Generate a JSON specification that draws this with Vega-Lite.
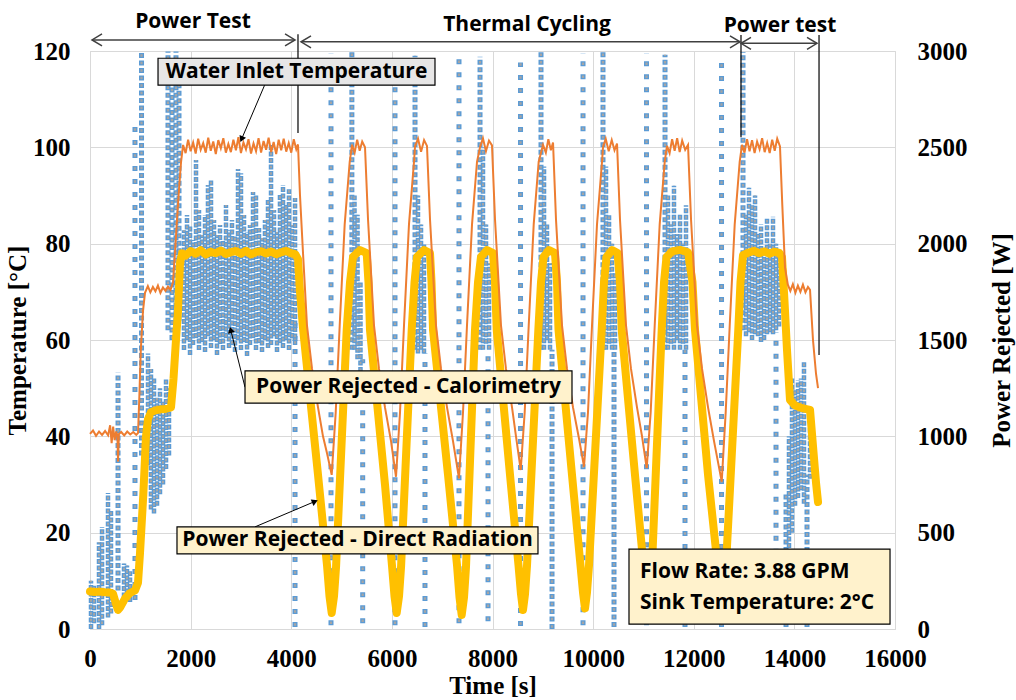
{
  "$schema": "https://vega.github.io/schema/vega-lite/v6.json",
  "width": 805,
  "height": 578,
  "autosize": {"type": "none"},
  "padding": {"left": 90, "top": 51, "right": 121, "bottom": 71},
  "background": "white",
  "config": {
    "view": {"stroke": "#d9d9d9"},
    "axis": {"labelFont": "Liberation Serif", "labelFontSize": 25, "labelFontWeight": "bold", "labelColor": "#000000", "titleFont": "Liberation Serif", "titleFontSize": 25, "titleFontWeight": "bold", "titleColor": "#000000", "ticks": false, "domain": false, "gridColor": "#d9d9d9", "gridWidth": 1}
  },
  "datasets": {
    "sparse": [
      {"t": 894, "lo": 150, "hi": 2620}, {"t": 4075, "lo": 10, "hi": 1600}, {"t": 4790, "lo": 20, "hi": 2990}, {"t": 5420, "lo": 30, "hi": 1400}, {"t": 6062, "lo": 20, "hi": 2970}, {"t": 6658, "lo": 10, "hi": 1430}, {"t": 7334, "lo": 30, "hi": 2960}, {"t": 7911, "lo": 40, "hi": 1450}, {"t": 8557, "lo": 15, "hi": 2940}, {"t": 9799, "lo": 20, "hi": 2990}, {"t": 11061, "lo": 20, "hi": 2990}, {"t": 11826, "lo": 10, "hi": 1450}, {"t": 12552, "lo": 10, "hi": 2960}, {"t": 13635, "lo": 390, "hi": 1540}
    ],
    "dense": [
      {"t": 557, "lo": 200, "hi": 1330}, {"t": 1024, "lo": 900, "hi": 2995}, {"t": 1550, "lo": 1550, "hi": 2998}, {"t": 1630, "lo": 1500, "hi": 2950}, {"t": 1709, "lo": 1550, "hi": 2998}, {"t": 1769, "lo": 1600, "hi": 2900}, {"t": 5205, "lo": 1450, "hi": 2995}, {"t": 6460, "lo": 1450, "hi": 2975}, {"t": 7752, "lo": 1450, "hi": 2970}, {"t": 8964, "lo": 1450, "hi": 2995}, {"t": 9183, "lo": 0, "hi": 1450}, {"t": 10196, "lo": 1450, "hi": 2995}, {"t": 10415, "lo": 10, "hi": 1450}, {"t": 11429, "lo": 1450, "hi": 2980}, {"t": 12979, "lo": 1550, "hi": 2995}, {"t": 13834, "lo": 10, "hi": 700}, {"t": 14251, "lo": 10, "hi": 800}
    ],
    "cluster": [
      {"t": 20, "lo": 0, "hi": 250}, {"t": 80, "lo": 30, "hi": 230}, {"t": 179, "lo": 0, "hi": 450}, {"t": 239, "lo": 20, "hi": 530}, {"t": 358, "lo": 60, "hi": 706}, {"t": 417, "lo": 80, "hi": 620}, {"t": 676, "lo": 130, "hi": 340}, {"t": 735, "lo": 150, "hi": 330}, {"t": 795, "lo": 140, "hi": 300},
      {"t": 1153, "lo": 850, "hi": 1430}, {"t": 1212, "lo": 620, "hi": 1350}, {"t": 1272, "lo": 600, "hi": 1300}, {"t": 1332, "lo": 640, "hi": 1200}, {"t": 1391, "lo": 700, "hi": 1250}, {"t": 1451, "lo": 750, "hi": 1180}, {"t": 1511, "lo": 830, "hi": 1300}, {"t": 1570, "lo": 900, "hi": 1250},
      {"t": 1868, "lo": 1448, "hi": 2070}, {"t": 1928, "lo": 1500, "hi": 2149}, {"t": 1988, "lo": 1422, "hi": 2097}, {"t": 2047, "lo": 1474, "hi": 2019}, {"t": 2107, "lo": 1510, "hi": 2434}, {"t": 2166, "lo": 1448, "hi": 2175}, {"t": 2226, "lo": 1490, "hi": 2045}, {"t": 2286, "lo": 1438, "hi": 2149}, {"t": 2345, "lo": 1520, "hi": 2304}, {"t": 2405, "lo": 1458, "hi": 2330}, {"t": 2465, "lo": 1500, "hi": 2123}, {"t": 2524, "lo": 1422, "hi": 2045}, {"t": 2584, "lo": 1479, "hi": 2097}, {"t": 2643, "lo": 1448, "hi": 2019}, {"t": 2703, "lo": 1510, "hi": 2201}, {"t": 2763, "lo": 1458, "hi": 2070}, {"t": 2822, "lo": 1474, "hi": 2123}, {"t": 2882, "lo": 1438, "hi": 2045}, {"t": 2942, "lo": 1500, "hi": 2387}, {"t": 3001, "lo": 1448, "hi": 2366}, {"t": 3061, "lo": 1490, "hi": 2149}, {"t": 3121, "lo": 1417, "hi": 2060}, {"t": 3180, "lo": 1474, "hi": 2097}, {"t": 3240, "lo": 1510, "hi": 2268}, {"t": 3299, "lo": 1448, "hi": 2252}, {"t": 3359, "lo": 1484, "hi": 2081}, {"t": 3419, "lo": 1438, "hi": 2029}, {"t": 3478, "lo": 1500, "hi": 2123}, {"t": 3538, "lo": 1458, "hi": 2227}, {"t": 3598, "lo": 1474, "hi": 2512}, {"t": 3657, "lo": 1520, "hi": 2175}, {"t": 3717, "lo": 1438, "hi": 2060}, {"t": 3776, "lo": 1484, "hi": 2252}, {"t": 3836, "lo": 1458, "hi": 2304}, {"t": 3896, "lo": 1500, "hi": 2201}, {"t": 3955, "lo": 1448, "hi": 2283}, {"t": 4015, "lo": 1510, "hi": 2097}, {"t": 4075, "lo": 1474, "hi": 2237},
      {"t": 5257, "lo": 1450, "hi": 2250}, {"t": 5317, "lo": 1400, "hi": 2150}, {"t": 5376, "lo": 1300, "hi": 1800},
      {"t": 6519, "lo": 1430, "hi": 2250}, {"t": 6579, "lo": 1450, "hi": 2100}, {"t": 6638, "lo": 1430, "hi": 2000},
      {"t": 7811, "lo": 1450, "hi": 2500}, {"t": 7871, "lo": 1480, "hi": 2100}, {"t": 7931, "lo": 1450, "hi": 1900},
      {"t": 9024, "lo": 1450, "hi": 2400}, {"t": 9083, "lo": 1500, "hi": 2100}, {"t": 9143, "lo": 1450, "hi": 1900},
      {"t": 10256, "lo": 1450, "hi": 2400}, {"t": 10316, "lo": 1480, "hi": 2150}, {"t": 10375, "lo": 1450, "hi": 2000}, {"t": 10435, "lo": 1450, "hi": 1850},
      {"t": 11488, "lo": 1450, "hi": 2250}, {"t": 11548, "lo": 1480, "hi": 2100}, {"t": 11607, "lo": 1450, "hi": 2300}, {"t": 11667, "lo": 1500, "hi": 2050}, {"t": 11727, "lo": 1450, "hi": 2150}, {"t": 11786, "lo": 1480, "hi": 2000}, {"t": 11846, "lo": 1450, "hi": 2200},
      {"t": 13039, "lo": 1520, "hi": 2150}, {"t": 13098, "lo": 1540, "hi": 2290}, {"t": 13158, "lo": 1500, "hi": 2200}, {"t": 13218, "lo": 1530, "hi": 2250}, {"t": 13277, "lo": 1520, "hi": 2050}, {"t": 13337, "lo": 1490, "hi": 2100}, {"t": 13397, "lo": 1500, "hi": 1950}, {"t": 13456, "lo": 1530, "hi": 2130}, {"t": 13516, "lo": 1540, "hi": 2000}, {"t": 13575, "lo": 1530, "hi": 2140}, {"t": 13635, "lo": 1550, "hi": 2000}, {"t": 13695, "lo": 1570, "hi": 1950},
      {"t": 13893, "lo": 150, "hi": 1000}, {"t": 13953, "lo": 500, "hi": 1300}, {"t": 14013, "lo": 640, "hi": 1240}, {"t": 14072, "lo": 680, "hi": 1290}, {"t": 14132, "lo": 720, "hi": 1300}, {"t": 14191, "lo": 650, "hi": 1385}, {"t": 14311, "lo": 780, "hi": 1050}
    ],
    "yellow": [
      {"t": 0, "p": 195}, {"t": 100, "p": 192}, {"t": 200, "p": 194}, {"t": 300, "p": 191}, {"t": 400, "p": 189}, {"t": 457, "p": 183}, {"t": 517, "p": 130}, {"t": 557, "p": 99}, {"t": 600, "p": 112}, {"t": 700, "p": 160}, {"t": 795, "p": 187}, {"t": 894, "p": 200}, {"t": 954, "p": 240}, {"t": 994, "p": 394}, {"t": 1060, "p": 700}, {"t": 1113, "p": 1000}, {"t": 1153, "p": 1090}, {"t": 1212, "p": 1125}, {"t": 1300, "p": 1135}, {"t": 1400, "p": 1140}, {"t": 1500, "p": 1142}, {"t": 1610, "p": 1150}, {"t": 1660, "p": 1300}, {"t": 1709, "p": 1500}, {"t": 1749, "p": 1650}, {"t": 1789, "p": 1900}, {"t": 1830, "p": 1950},
      {"t": 1900, "p": 1938}, {"t": 2000, "p": 1962}, {"t": 2100, "p": 1948}, {"t": 2200, "p": 1966}, {"t": 2300, "p": 1944}, {"t": 2400, "p": 1958}, {"t": 2500, "p": 1950}, {"t": 2600, "p": 1964}, {"t": 2700, "p": 1946}, {"t": 2800, "p": 1956}, {"t": 2900, "p": 1962}, {"t": 3000, "p": 1948}, {"t": 3100, "p": 1963}, {"t": 3200, "p": 1944}, {"t": 3300, "p": 1956}, {"t": 3400, "p": 1961}, {"t": 3500, "p": 1949}, {"t": 3600, "p": 1959}, {"t": 3700, "p": 1945}, {"t": 3800, "p": 1955}, {"t": 3900, "p": 1962}, {"t": 4000, "p": 1950}, {"t": 4080, "p": 1946}, {"t": 4134, "p": 1920}, {"t": 4174, "p": 1750}, {"t": 4234, "p": 1560}, {"t": 4532, "p": 800}, {"t": 4711, "p": 330}, {"t": 4760, "p": 170}, {"t": 4804, "p": 83}, {"t": 4850, "p": 170}, {"t": 4890, "p": 320}, {"t": 5102, "p": 1552}, {"t": 5168, "p": 1800}, {"t": 5228, "p": 1931}, {"t": 5367, "p": 1967}, {"t": 5499, "p": 1951}, {"t": 5535, "p": 1800}, {"t": 5565, "p": 1552},
      {"t": 5863, "p": 750}, {"t": 6002, "p": 330}, {"t": 6052, "p": 170}, {"t": 6096, "p": 83}, {"t": 6142, "p": 170}, {"t": 6182, "p": 320}, {"t": 6394, "p": 1552}, {"t": 6450, "p": 1800}, {"t": 6500, "p": 1931}, {"t": 6639, "p": 1967}, {"t": 6758, "p": 1951}, {"t": 6788, "p": 1800}, {"t": 6818, "p": 1552},
      {"t": 7116, "p": 800}, {"t": 7295, "p": 330}, {"t": 7344, "p": 165}, {"t": 7388, "p": 73}, {"t": 7434, "p": 165}, {"t": 7473, "p": 320}, {"t": 7652, "p": 1552}, {"t": 7712, "p": 1800}, {"t": 7771, "p": 1931}, {"t": 7891, "p": 1967}, {"t": 8010, "p": 1951}, {"t": 8050, "p": 1800}, {"t": 8084, "p": 1552},
      {"t": 8348, "p": 800}, {"t": 8517, "p": 330}, {"t": 8567, "p": 180}, {"t": 8606, "p": 99}, {"t": 8646, "p": 180}, {"t": 8686, "p": 330}, {"t": 8911, "p": 1552}, {"t": 8964, "p": 1800}, {"t": 9014, "p": 1931}, {"t": 9123, "p": 1967}, {"t": 9242, "p": 1951}, {"t": 9282, "p": 1800}, {"t": 9312, "p": 1552},
      {"t": 9580, "p": 800}, {"t": 9749, "p": 330}, {"t": 9799, "p": 190}, {"t": 9839, "p": 107}, {"t": 9878, "p": 190}, {"t": 9918, "p": 330}, {"t": 10170, "p": 1552}, {"t": 10216, "p": 1800}, {"t": 10266, "p": 1931}, {"t": 10375, "p": 1967}, {"t": 10485, "p": 1951}, {"t": 10534, "p": 1800}, {"t": 10568, "p": 1552},
      {"t": 10832, "p": 800}, {"t": 11001, "p": 330}, {"t": 11051, "p": 175}, {"t": 11091, "p": 90}, {"t": 11131, "p": 175}, {"t": 11170, "p": 330}, {"t": 11363, "p": 1552}, {"t": 11409, "p": 1800}, {"t": 11459, "p": 1931}, {"t": 11568, "p": 1960}, {"t": 11727, "p": 1968}, {"t": 11886, "p": 1955}, {"t": 11975, "p": 1800}, {"t": 12025, "p": 1552},
      {"t": 12284, "p": 800}, {"t": 12473, "p": 330}, {"t": 12522, "p": 170}, {"t": 12562, "p": 80}, {"t": 12602, "p": 170}, {"t": 12641, "p": 330}, {"t": 12885, "p": 1552}, {"t": 12929, "p": 1800}, {"t": 12979, "p": 1940}, {"t": 13100, "p": 1955}, {"t": 13200, "p": 1962}, {"t": 13300, "p": 1950}, {"t": 13400, "p": 1960}, {"t": 13500, "p": 1948}, {"t": 13600, "p": 1958}, {"t": 13700, "p": 1952}, {"t": 13754, "p": 1930}, {"t": 13804, "p": 1700}, {"t": 13853, "p": 1450}, {"t": 13913, "p": 1188}, {"t": 14013, "p": 1160}, {"t": 14172, "p": 1145}, {"t": 14311, "p": 1137}, {"t": 14370, "p": 950}, {"t": 14430, "p": 760}, {"t": 14470, "p": 659}
    ],
    "orange": [
      {"t": 0, "v": 40.5}, {"t": 60, "v": 41.2}, {"t": 120, "v": 40.1}, {"t": 180, "v": 41.0}, {"t": 240, "v": 40.3}, {"t": 300, "v": 41.1}, {"t": 360, "v": 40.2}, {"t": 400, "v": 42.3}, {"t": 430, "v": 38.6}, {"t": 460, "v": 42.0}, {"t": 490, "v": 39.2}, {"t": 520, "v": 41.0}, {"t": 545, "v": 40.2}, {"t": 557, "v": 34.8}, {"t": 575, "v": 40.5}, {"t": 620, "v": 40.9}, {"t": 680, "v": 40.2}, {"t": 740, "v": 41.0}, {"t": 800, "v": 40.4}, {"t": 860, "v": 40.9}, {"t": 920, "v": 40.3}, {"t": 955, "v": 40.7}, {"t": 980, "v": 48}, {"t": 1010, "v": 58}, {"t": 1053, "v": 66}, {"t": 1093, "v": 69.8}, {"t": 1150, "v": 71.2}, {"t": 1200, "v": 69.9}, {"t": 1250, "v": 71.0}, {"t": 1300, "v": 70.1}, {"t": 1350, "v": 71.3}, {"t": 1400, "v": 69.8}, {"t": 1450, "v": 70.9}, {"t": 1500, "v": 70.2}, {"t": 1550, "v": 71.1}, {"t": 1600, "v": 70.4}, {"t": 1650, "v": 72}, {"t": 1700, "v": 80}, {"t": 1760, "v": 90}, {"t": 1810, "v": 97},
      {"t": 1850, "v": 100.5}, {"t": 1900, "v": 98.8}, {"t": 1950, "v": 101.6}, {"t": 2000, "v": 99.2}, {"t": 2050, "v": 101.0}, {"t": 2100, "v": 98.7}, {"t": 2150, "v": 101.8}, {"t": 2200, "v": 99.5}, {"t": 2250, "v": 100.9}, {"t": 2300, "v": 98.9}, {"t": 2350, "v": 102.0}, {"t": 2400, "v": 99.3}, {"t": 2450, "v": 101.2}, {"t": 2500, "v": 98.6}, {"t": 2550, "v": 101.5}, {"t": 2600, "v": 99.8}, {"t": 2650, "v": 101.9}, {"t": 2700, "v": 98.9}, {"t": 2750, "v": 100.7}, {"t": 2800, "v": 99.0}, {"t": 2850, "v": 101.6}, {"t": 2900, "v": 99.4}, {"t": 2950, "v": 102.1}, {"t": 3000, "v": 98.8}, {"t": 3050, "v": 101.0}, {"t": 3100, "v": 99.6}, {"t": 3150, "v": 101.7}, {"t": 3200, "v": 98.7}, {"t": 3250, "v": 100.8}, {"t": 3300, "v": 99.2}, {"t": 3350, "v": 101.9}, {"t": 3400, "v": 98.9}, {"t": 3450, "v": 101.3}, {"t": 3500, "v": 99.5}, {"t": 3550, "v": 102.0}, {"t": 3600, "v": 99.0}, {"t": 3650, "v": 101.1}, {"t": 3700, "v": 98.6}, {"t": 3750, "v": 101.6}, {"t": 3800, "v": 99.4}, {"t": 3850, "v": 101.8}, {"t": 3900, "v": 99.1}, {"t": 3950, "v": 100.9}, {"t": 4000, "v": 98.9}, {"t": 4050, "v": 101.7}, {"t": 4100, "v": 99.6}, {"t": 4134, "v": 100.6},
      {"t": 4174, "v": 90}, {"t": 4234, "v": 78}, {"t": 4313, "v": 63}, {"t": 4413, "v": 54}, {"t": 4532, "v": 46}, {"t": 4631, "v": 40}, {"t": 4711, "v": 36.5}, {"t": 4804, "v": 32}, {"t": 4884, "v": 45}, {"t": 4963, "v": 63}, {"t": 5062, "v": 84}, {"t": 5162, "v": 97}, {"t": 5208, "v": 100.5}, {"t": 5260, "v": 98.9}, {"t": 5310, "v": 101.6}, {"t": 5360, "v": 99.3}, {"t": 5410, "v": 101.2}, {"t": 5466, "v": 100},
      {"t": 5526, "v": 85}, {"t": 5645, "v": 63}, {"t": 5744, "v": 54}, {"t": 5863, "v": 46}, {"t": 5983, "v": 39}, {"t": 6082, "v": 31.6}, {"t": 6162, "v": 45}, {"t": 6241, "v": 63}, {"t": 6340, "v": 84}, {"t": 6440, "v": 97}, {"t": 6460, "v": 100.2}, {"t": 6520, "v": 101.8}, {"t": 6580, "v": 99.1}, {"t": 6640, "v": 101.5}, {"t": 6698, "v": 100.3},
      {"t": 6758, "v": 85}, {"t": 6877, "v": 63}, {"t": 6977, "v": 54}, {"t": 7096, "v": 46}, {"t": 7215, "v": 39}, {"t": 7334, "v": 31.3}, {"t": 7414, "v": 45}, {"t": 7493, "v": 63}, {"t": 7593, "v": 84}, {"t": 7692, "v": 97}, {"t": 7752, "v": 100}, {"t": 7810, "v": 101.9}, {"t": 7870, "v": 99.2}, {"t": 7930, "v": 101.4}, {"t": 7990, "v": 100.4},
      {"t": 8050, "v": 85}, {"t": 8169, "v": 63}, {"t": 8268, "v": 54}, {"t": 8388, "v": 46}, {"t": 8467, "v": 40}, {"t": 8561, "v": 33}, {"t": 8640, "v": 45}, {"t": 8720, "v": 63}, {"t": 8819, "v": 84}, {"t": 8918, "v": 97}, {"t": 9004, "v": 100.5}, {"t": 9060, "v": 98.9}, {"t": 9110, "v": 101.7}, {"t": 9160, "v": 99.4}, {"t": 9203, "v": 101},
      {"t": 9262, "v": 85}, {"t": 9382, "v": 63}, {"t": 9481, "v": 54}, {"t": 9600, "v": 46}, {"t": 9720, "v": 39.5}, {"t": 9819, "v": 33.7}, {"t": 9898, "v": 45}, {"t": 9978, "v": 63}, {"t": 10077, "v": 84}, {"t": 10177, "v": 97}, {"t": 10196, "v": 100}, {"t": 10250, "v": 101.8}, {"t": 10310, "v": 99.2}, {"t": 10370, "v": 101.5}, {"t": 10425, "v": 99.4}, {"t": 10475, "v": 100.8},
      {"t": 10534, "v": 85}, {"t": 10654, "v": 63}, {"t": 10753, "v": 54}, {"t": 10872, "v": 46}, {"t": 10972, "v": 40}, {"t": 11065, "v": 33.4}, {"t": 11144, "v": 45}, {"t": 11224, "v": 63}, {"t": 11323, "v": 84}, {"t": 11423, "v": 97}, {"t": 11468, "v": 100.3}, {"t": 11520, "v": 98.8}, {"t": 11570, "v": 101.7}, {"t": 11620, "v": 99.3}, {"t": 11670, "v": 101.9}, {"t": 11720, "v": 99.0}, {"t": 11770, "v": 101.4}, {"t": 11830, "v": 99.5}, {"t": 11886, "v": 100.5},
      {"t": 11946, "v": 85}, {"t": 12065, "v": 63}, {"t": 12165, "v": 54}, {"t": 12284, "v": 46}, {"t": 12403, "v": 39}, {"t": 12556, "v": 30.6}, {"t": 12635, "v": 45}, {"t": 12715, "v": 63}, {"t": 12814, "v": 84}, {"t": 12913, "v": 97}, {"t": 12959, "v": 100.5},
      {"t": 13009, "v": 98.9}, {"t": 13059, "v": 101.7}, {"t": 13109, "v": 99.2}, {"t": 13159, "v": 101.5}, {"t": 13209, "v": 98.8}, {"t": 13259, "v": 101.2}, {"t": 13309, "v": 99.6}, {"t": 13359, "v": 101.9}, {"t": 13409, "v": 99.0}, {"t": 13459, "v": 100.9}, {"t": 13509, "v": 98.8}, {"t": 13559, "v": 101.6}, {"t": 13609, "v": 99.3}, {"t": 13659, "v": 101.8}, {"t": 13714, "v": 100.2},
      {"t": 13760, "v": 88}, {"t": 13814, "v": 75}, {"t": 13870, "v": 71.5}, {"t": 13920, "v": 70.2}, {"t": 13970, "v": 71.6}, {"t": 14020, "v": 69.8}, {"t": 14070, "v": 71.3}, {"t": 14120, "v": 70.0}, {"t": 14170, "v": 71.5}, {"t": 14220, "v": 69.9}, {"t": 14270, "v": 71.0}, {"t": 14311, "v": 70.4}, {"t": 14370, "v": 60}, {"t": 14430, "v": 53}, {"t": 14470, "v": 50}
    ],
    "spans": [
      {"t1": 40, "t2": 4075, "v": 122.3}, {"t1": 4194, "t2": 12919, "v": 121.9}, {"t1": 12939, "t2": 14450, "v": 121.6}
    ],
    "vlines": [
      {"t": 4134, "v1": 123.5, "v2": 103.0}, {"t": 12939, "v1": 123.3, "v2": 102.1}, {"t": 14490, "v1": 123.3, "v2": 56.9}
    ],
    "heads": [
      {"t": 40, "v": 122.3, "dir": "left"}, {"t": 4075, "v": 122.3, "dir": "right"}, {"t": 4194, "v": 121.9, "dir": "left"}, {"t": 12919, "v": 121.9, "dir": "right"}, {"t": 12939, "v": 121.6, "dir": "left"}, {"t": 14450, "v": 121.6, "dir": "right"}
    ],
    "phases": [
      {"t": 2047, "v": 124.8, "label": "Power Test"}, {"t": 8686, "v": 124.1, "label": "Thermal Cycling"}, {"t": 13714, "v": 123.9, "label": "Power test"}
    ],
    "graybox": [
      {"t1": 1352, "t2": 6857, "v1": 118.5, "v2": 112.9}
    ],
    "creambox": [
      {"t1": 3081, "t2": 9580, "v1": 53.6, "v2": 46.9}, {"t1": 1729, "t2": 8904, "v1": 21.2, "v2": 15.6}, {"t1": 10713, "t2": 15901, "v1": 16.6, "v2": 1.0}
    ],
    "centerlabels": [
      {"t": 4104, "v": 115.6, "label": "Water Inlet Temperature"}, {"t": 6330, "v": 50.2, "label": "Power Rejected - Calorimetry"}, {"t": 5317, "v": 18.4, "label": "Power Rejected - Direct Radiation"}
    ],
    "leftlabels": [
      {"t": 10932, "v": 11.8, "label": "Flow Rate: 3.88 GPM"}, {"t": 10932, "v": 5.4, "label": "Sink Temperature: 2°C"}
    ],
    "pointers": [
      {"name": "water", "t1": 3478, "v1": 113.1, "t2": 3021, "v2": 101.9}, {"name": "calor", "t1": 3081, "v1": 50.2, "t2": 2802, "v2": 61.9}, {"name": "direct", "t1": 3280, "v1": 21.2, "t2": 4452, "v2": 26.4}
    ]
  },
  "resolve": {"scale": {"y": "independent"}},
  "layer": [
    {
      "layer": [
        {"data": {"name": "sparse"}, "mark": {"type": "rule", "stroke": "#5b9bd5", "strokeWidth": 5, "strokeDash": [5, 8]},
         "encoding": {"x": {"field": "t", "type": "quantitative", "scale": {"domain": [0, 16000], "nice": false}}, "y": {"field": "lo", "type": "quantitative", "scale": {"domain": [0, 3000], "nice": false}}, "y2": {"field": "hi"}}},
        {"data": {"name": "sparse"}, "mark": {"type": "rule", "stroke": "#a5a5a5", "strokeWidth": 2.2, "strokeDash": [2.5, 10.5], "strokeDashOffset": -1.25},
         "encoding": {"x": {"field": "t", "type": "quantitative", "scale": {"domain": [0, 16000], "nice": false}}, "y": {"field": "lo", "type": "quantitative", "scale": {"domain": [0, 3000], "nice": false}}, "y2": {"field": "hi"}}},
        {"data": {"name": "dense"}, "mark": {"type": "rule", "stroke": "#5b9bd5", "strokeWidth": 5, "strokeDash": [5, 2.5]},
         "encoding": {"x": {"field": "t", "type": "quantitative", "scale": {"domain": [0, 16000], "nice": false}}, "y": {"field": "lo", "type": "quantitative", "scale": {"domain": [0, 3000], "nice": false}}, "y2": {"field": "hi"}}},
        {"data": {"name": "dense"}, "mark": {"type": "rule", "stroke": "#a5a5a5", "strokeWidth": 2.2, "strokeDash": [2.5, 5], "strokeDashOffset": -1.25},
         "encoding": {"x": {"field": "t", "type": "quantitative", "scale": {"domain": [0, 16000], "nice": false}}, "y": {"field": "lo", "type": "quantitative", "scale": {"domain": [0, 3000], "nice": false}}, "y2": {"field": "hi"}}},
        {"data": {"name": "cluster"}, "mark": {"type": "rule", "stroke": "#5b9bd5", "strokeWidth": 4.5, "strokeDash": [5, 1.5]},
         "encoding": {"x": {"field": "t", "type": "quantitative", "scale": {"domain": [0, 16000], "nice": false}}, "y": {"field": "lo", "type": "quantitative", "scale": {"domain": [0, 3000], "nice": false}}, "y2": {"field": "hi"}}},
        {"data": {"name": "cluster"}, "mark": {"type": "rule", "stroke": "#a5a5a5", "strokeWidth": 2, "strokeDash": [2.5, 4], "strokeDashOffset": -1.25},
         "encoding": {"x": {"field": "t", "type": "quantitative", "scale": {"domain": [0, 16000], "nice": false}}, "y": {"field": "lo", "type": "quantitative", "scale": {"domain": [0, 3000], "nice": false}}, "y2": {"field": "hi"}}},
        {"data": {"name": "yellow"}, "mark": {"type": "line", "stroke": "#ffc000", "strokeWidth": 8, "strokeCap": "round", "strokeJoin": "round"},
         "encoding": {"x": {"field": "t", "type": "quantitative", "scale": {"domain": [0, 16000], "nice": false}},
                      "y": {"field": "p", "type": "quantitative", "scale": {"domain": [0, 3000], "nice": false},
                            "axis": {"orient": "right", "values": [0, 500, 1000, 1500, 2000, 2500, 3000], "format": "d", "grid": false, "title": "Power Rejected [W]", "titleAngle": 270, "titleBaseline": "top", "labelPadding": 22, "titlePadding": 22}}}}
      ]
    },
    {
      "layer": [
        {"data": {"name": "orange"}, "mark": {"type": "line", "stroke": "#ed7d31", "strokeWidth": 2},
         "encoding": {"x": {"field": "t", "type": "quantitative", "scale": {"domain": [0, 16000], "nice": false},
                            "axis": {"values": [0, 2000, 4000, 6000, 8000, 10000, 12000, 14000, 16000], "format": "d", "grid": true, "title": "Time [s]", "labelPadding": 17, "titlePadding": 2, "labelFlush": false}},
                      "y": {"field": "v", "type": "quantitative", "scale": {"domain": [0, 120], "nice": false},
                            "axis": {"values": [0, 20, 40, 60, 80, 100, 120], "format": "d", "grid": true, "title": "Temperature [°C]", "labelPadding": 20, "titlePadding": 2}}}},
        {"data": {"name": "spans"}, "mark": {"type": "rule", "stroke": "#404040", "strokeWidth": 1.5},
         "encoding": {"x": {"field": "t1", "type": "quantitative", "scale": {"domain": [0, 16000], "nice": false}}, "x2": {"field": "t2"}, "y": {"field": "v", "type": "quantitative", "scale": {"domain": [0, 120], "nice": false}}}},
        {"data": {"name": "vlines"}, "mark": {"type": "rule", "stroke": "#000000", "strokeWidth": 1.2},
         "encoding": {"x": {"field": "t", "type": "quantitative", "scale": {"domain": [0, 16000], "nice": false}}, "y": {"field": "v1", "type": "quantitative", "scale": {"domain": [0, 120], "nice": false}}, "y2": {"field": "v2"}}},
        {"data": {"name": "heads"}, "mark": {"type": "point", "filled": false, "stroke": "#404040", "strokeWidth": 1.5, "size": 400, "opacity": 1},
         "encoding": {"x": {"field": "t", "type": "quantitative", "scale": {"domain": [0, 16000], "nice": false}}, "y": {"field": "v", "type": "quantitative", "scale": {"domain": [0, 120], "nice": false}},
                      "shape": {"field": "dir", "type": "nominal", "scale": {"domain": ["left", "right"], "range": ["M 1 -0.6 L 0 0 L 1 0.6", "M -1 -0.6 L 0 0 L -1 0.6"]}, "legend": null}}},
        {"data": {"name": "phases"}, "mark": {"type": "text", "font": "Open Sans", "fontWeight": "bold", "fontSize": 21, "fill": "#000000", "align": "center", "baseline": "alphabetic"},
         "encoding": {"x": {"field": "t", "type": "quantitative", "scale": {"domain": [0, 16000], "nice": false}}, "y": {"field": "v", "type": "quantitative", "scale": {"domain": [0, 120], "nice": false}}, "text": {"field": "label"}}},
        {"data": {"name": "pointers"}, "mark": {"type": "rule", "stroke": "#000000", "strokeWidth": 1},
         "encoding": {"x": {"field": "t1", "type": "quantitative", "scale": {"domain": [0, 16000], "nice": false}}, "x2": {"field": "t2"}, "y": {"field": "v1", "type": "quantitative", "scale": {"domain": [0, 120], "nice": false}}, "y2": {"field": "v2"}}},
        {"data": {"name": "pointers"}, "transform": [{"filter": "datum.name === 'water'"}], "mark": {"type": "point", "shape": "triangle", "filled": true, "fill": "#000000", "size": 50, "angle": 203, "opacity": 1},
         "encoding": {"x": {"field": "t2", "type": "quantitative", "scale": {"domain": [0, 16000], "nice": false}}, "y": {"field": "v2", "type": "quantitative", "scale": {"domain": [0, 120], "nice": false}}}},
        {"data": {"name": "pointers"}, "transform": [{"filter": "datum.name === 'calor'"}], "mark": {"type": "point", "shape": "triangle", "filled": true, "fill": "#000000", "size": 50, "angle": 346, "opacity": 1},
         "encoding": {"x": {"field": "t2", "type": "quantitative", "scale": {"domain": [0, 16000], "nice": false}}, "y": {"field": "v2", "type": "quantitative", "scale": {"domain": [0, 120], "nice": false}}}},
        {"data": {"name": "pointers"}, "transform": [{"filter": "datum.name === 'direct'"}], "mark": {"type": "point", "shape": "triangle", "filled": true, "fill": "#000000", "size": 50, "angle": 67, "opacity": 1},
         "encoding": {"x": {"field": "t2", "type": "quantitative", "scale": {"domain": [0, 16000], "nice": false}}, "y": {"field": "v2", "type": "quantitative", "scale": {"domain": [0, 120], "nice": false}}}},
        {"data": {"name": "graybox"}, "mark": {"type": "rect", "fill": "#e7e6e6", "stroke": "#000000", "strokeWidth": 1.2},
         "encoding": {"x": {"field": "t1", "type": "quantitative", "scale": {"domain": [0, 16000], "nice": false}}, "x2": {"field": "t2"}, "y": {"field": "v1", "type": "quantitative", "scale": {"domain": [0, 120], "nice": false}}, "y2": {"field": "v2"}}},
        {"data": {"name": "creambox"}, "mark": {"type": "rect", "fill": "#fff2cc", "stroke": "#000000", "strokeWidth": 1.2},
         "encoding": {"x": {"field": "t1", "type": "quantitative", "scale": {"domain": [0, 16000], "nice": false}}, "x2": {"field": "t2"}, "y": {"field": "v1", "type": "quantitative", "scale": {"domain": [0, 120], "nice": false}}, "y2": {"field": "v2"}}},
        {"data": {"name": "centerlabels"}, "mark": {"type": "text", "font": "Open Sans", "fontWeight": "bold", "fontSize": 21, "fill": "#000000", "align": "center", "baseline": "middle"},
         "encoding": {"x": {"field": "t", "type": "quantitative", "scale": {"domain": [0, 16000], "nice": false}}, "y": {"field": "v", "type": "quantitative", "scale": {"domain": [0, 120], "nice": false}}, "text": {"field": "label"}}},
        {"data": {"name": "leftlabels"}, "mark": {"type": "text", "font": "Open Sans", "fontWeight": "bold", "fontSize": 21, "fill": "#000000", "align": "left", "baseline": "middle"},
         "encoding": {"x": {"field": "t", "type": "quantitative", "scale": {"domain": [0, 16000], "nice": false}}, "y": {"field": "v", "type": "quantitative", "scale": {"domain": [0, 120], "nice": false}}, "text": {"field": "label"}}}
      ]
    }
  ]
}
